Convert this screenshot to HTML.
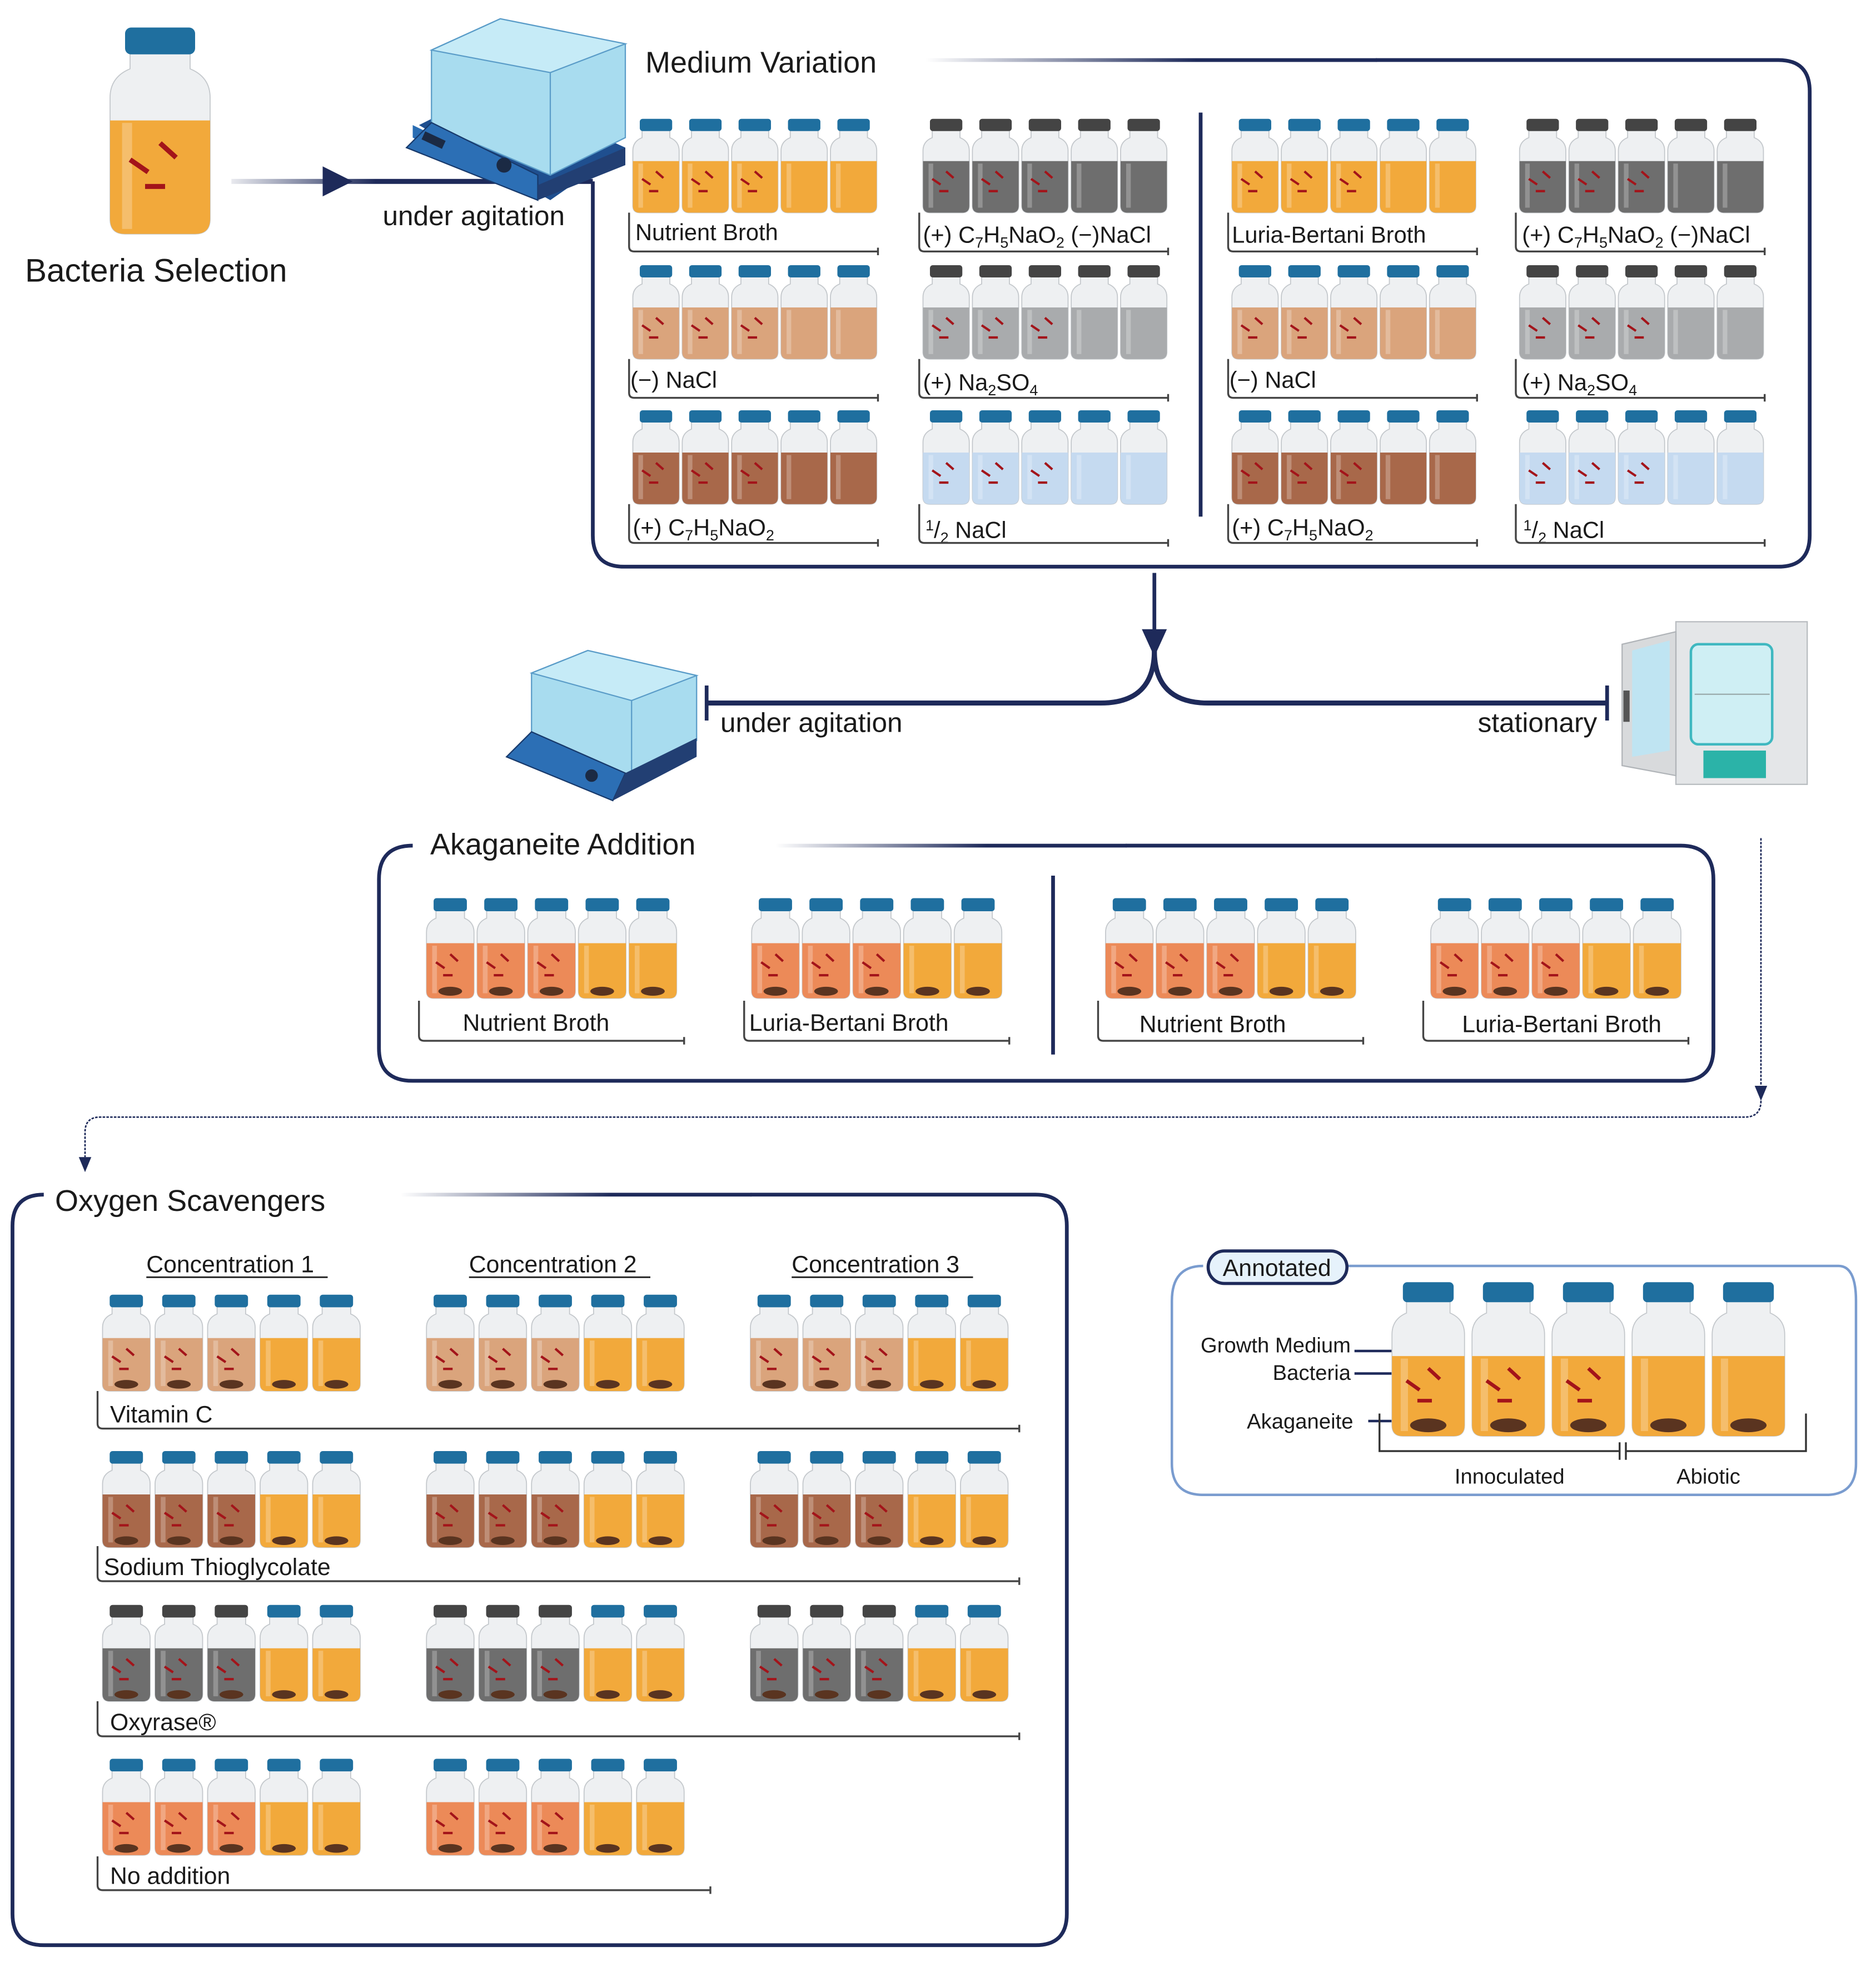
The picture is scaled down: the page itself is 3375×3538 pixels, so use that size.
<!DOCTYPE html>
<html><head><meta charset="utf-8">
<style>
html,body{margin:0;padding:0;background:#fff;}
svg{display:block;}
text{font-family:"Liberation Sans",sans-serif;fill:#1a1a1a;}
</style></head>
<body>
<svg id="s" xmlns="http://www.w3.org/2000/svg" width="3375" height="3538" viewBox="0 0 1500 1572.4">
<defs>
<linearGradient id="fadeR" x1="0" x2="1" y1="0" y2="0"><stop offset="0" stop-color="#1e2a5a" stop-opacity="0"/><stop offset="0.6" stop-color="#1e2a5a" stop-opacity="1"/></linearGradient>
<linearGradient id="fadeL" x1="0" x2="1" y1="0" y2="0"><stop offset="0" stop-color="#1e2a5a" stop-opacity="0.1"/><stop offset="0.4" stop-color="#1e2a5a"/></linearGradient>
</defs>
<rect width="1500" height="1572.4" fill="#fff"/>

<!-- Top section -->
<text x="20" y="225" font-size="26">Bacteria Selection</text>
<rect x="185" y="143" width="289" height="4" fill="url(#fadeL)"/>
<polygon points="258,133 282,145 258,157" fill="#1e2a5a"/>
<!-- shaker 1 -->
<g>
<polygon points="335,100 440,160 500,118 395,70" fill="#1f4f8f"/>
<polygon points="330,110 430,160 430,148 330,100" fill="#2a6db3"/>
<polygon points="345,40 400,15 500,35 500,110 440,140 345,100" fill="#a8dcef" stroke="#5a9cc8" stroke-width="1"/>
<polygon points="345,40 400,15 500,35 440,58" fill="#c6ebf7" stroke="#5a9cc8"/>
<line x1="440" y1="58" x2="440" y2="140" stroke="#5a9cc8"/>
<polygon points="325,118 345,98 430,140 430,160" fill="#2c6fb5" stroke="#17396b"/>
<circle cx="403" cy="132" r="6" fill="#1b2a44"/>
<rect x="340" y="105" width="18" height="7" fill="#1b2a44" transform="rotate(25 340 105)"/>
<polygon points="430,148 500,118 500,132 430,160" fill="#223f73"/>
</g>
<text x="306" y="180" font-size="22">under agitation</text>

<!-- Medium Variation box -->
<path d="M474 145 L474 428 Q474 453 499 453 L1422 453 Q1447 453 1447 428 L1447 73 Q1447 48 1422 48 L1100 48" fill="none" stroke="#1e2a5a" stroke-width="3"/>
<rect x="740" y="46.5" width="361" height="3" fill="url(#fadeR)"/>
<text x="516" y="58" font-size="24">Medium Variation</text>
<line x1="960" y1="90" x2="960" y2="413" stroke="#1e2a5a" stroke-width="3"/>
<g font-size="18.5">
<text x="508" y="192">Nutrient Broth</text>
<text x="738" y="194">(+) C<tspan font-size="12" dy="4">7</tspan><tspan dy="-4">H</tspan><tspan font-size="12" dy="4">5</tspan><tspan dy="-4">NaO</tspan><tspan font-size="12" dy="4">2</tspan><tspan dy="-4"> (−)NaCl</tspan></text>
<text x="504" y="310">(−) NaCl</text>
<text x="738" y="312">(+) Na<tspan font-size="12" dy="4">2</tspan><tspan dy="-4">SO</tspan><tspan font-size="12" dy="4">4</tspan></text>
<text x="506" y="428">(+) C<tspan font-size="12" dy="4">7</tspan><tspan dy="-4">H</tspan><tspan font-size="12" dy="4">5</tspan><tspan dy="-4">NaO</tspan><tspan font-size="12" dy="4">2</tspan></text>
<text x="740" y="430"><tspan font-size="12" dy="-6">1</tspan><tspan dy="6">/</tspan><tspan font-size="12" dy="4">2</tspan><tspan dy="-4"> NaCl</tspan></text>
<text x="985" y="194">Luria-Bertani Broth</text>
<text x="1217" y="194">(+) C<tspan font-size="12" dy="4">7</tspan><tspan dy="-4">H</tspan><tspan font-size="12" dy="4">5</tspan><tspan dy="-4">NaO</tspan><tspan font-size="12" dy="4">2</tspan><tspan dy="-4"> (−)NaCl</tspan></text>
<text x="983" y="310">(−) NaCl</text>
<text x="1217" y="312">(+) Na<tspan font-size="12" dy="4">2</tspan><tspan dy="-4">SO</tspan><tspan font-size="12" dy="4">4</tspan></text>
<text x="985" y="428">(+) C<tspan font-size="12" dy="4">7</tspan><tspan dy="-4">H</tspan><tspan font-size="12" dy="4">5</tspan><tspan dy="-4">NaO</tspan><tspan font-size="12" dy="4">2</tspan></text>
<text x="1218" y="430"><tspan font-size="12" dy="-6">1</tspan><tspan dy="6">/</tspan><tspan font-size="12" dy="4">2</tspan><tspan dy="-4"> NaCl</tspan></text>
</g>

<!-- Split connector -->
<line x1="923" y1="458" x2="923" y2="510" stroke="#1e2a5a" stroke-width="3"/>
<polygon points="913,503 933,503 923,525" fill="#1e2a5a"/>
<path d="M923 520 Q923 562 880 562 L565 562" fill="none" stroke="#1e2a5a" stroke-width="4"/>
<path d="M923 520 Q923 562 966 562 L1285 562" fill="none" stroke="#1e2a5a" stroke-width="4"/>
<line x1="565" y1="548" x2="565" y2="576" stroke="#1e2a5a" stroke-width="3"/>
<line x1="1285" y1="548" x2="1285" y2="576" stroke="#1e2a5a" stroke-width="3"/>
<text x="576" y="585" font-size="22">under agitation</text>
<text x="1277" y="585" font-size="22" text-anchor="end">stationary</text>
<!-- shaker 2 -->
<g>
<polygon points="410,600 490,640 557,600 480,568" fill="#1f4f8f"/>
<polygon points="425,538 470,520 557,540 557,592 500,620 425,585" fill="#a8dcef" stroke="#5a9cc8"/>
<polygon points="425,538 470,520 557,540 505,560" fill="#c6ebf7" stroke="#5a9cc8"/>
<line x1="505" y1="560" x2="505" y2="618" stroke="#5a9cc8"/>
<polygon points="405,605 425,585 500,618 490,640" fill="#2c6fb5" stroke="#17396b"/>
<circle cx="473" cy="620" r="5" fill="#1b2a44"/>
<polygon points="490,640 557,605 557,590 500,618" fill="#223f73"/>
</g>
<!-- incubator -->
<g>
<rect x="1340" y="497" width="105" height="130" fill="#e4e6e8" stroke="#b8bcc0"/>
<rect x="1352" y="515" width="65" height="80" rx="6" fill="#cfeff4" stroke="#3fb8c0" stroke-width="2"/>
<line x1="1355" y1="555" x2="1415" y2="555" stroke="#9aa"/>
<rect x="1362" y="600" width="50" height="22" fill="#2bb3a8"/>
<polygon points="1297,515 1340,505 1340,620 1297,612" fill="#d8dadc" stroke="#b0b4b8"/>
<polygon points="1305,520 1335,512 1335,600 1305,605" fill="#bfe4f2"/>
<rect x="1298" y="552" width="5" height="25" fill="#555"/>
</g>

<!-- Akaganeite box -->
<path d="M330 676 Q303 676 303 703 L303 838 Q303 864 330 864 L1344 864 Q1370 864 1370 838 L1370 703 Q1370 676 1344 676 L900 676" fill="none" stroke="#1e2a5a" stroke-width="3"/>
<rect x="620" y="674.5" width="281" height="3" fill="url(#fadeR)"/>
<text x="344" y="683" font-size="24">Akaganeite Addition</text>
<line x1="842" y1="700" x2="842" y2="843" stroke="#1e2a5a" stroke-width="3"/>
<g font-size="19">
<text x="370" y="824">Nutrient Broth</text>
<text x="599" y="824">Luria-Bertani Broth</text>
<text x="911" y="825">Nutrient Broth</text>
<text x="1169" y="825">Luria-Bertani Broth</text>
</g>

<!-- dotted connector -->
<path d="M1408 670 L1408 870 M1408 880 Q1408 893 1395 893 L80 893 Q68 893 68 905 L68 925" fill="none" stroke="#1e2a5a" stroke-width="1.2" stroke-dasharray="2 1"/>
<polygon points="1403,868 1413,868 1408,880" fill="#1e2a5a"/>
<polygon points="63,925 73,925 68,937" fill="#1e2a5a"/>

<!-- Oxygen Scavengers box -->
<path d="M35 955 Q10 955 10 980 L10 1530 Q10 1555 35 1555 L828 1555 Q853 1555 853 1530 L853 980 Q853 955 828 955 L600 955" fill="none" stroke="#1e2a5a" stroke-width="3"/>
<rect x="320" y="953.5" width="281" height="3" fill="url(#fadeR)"/>
<text x="44" y="968" font-size="24">Oxygen Scavengers</text>
<g font-size="19">
<text x="117" y="1017">Concentration 1</text><line x1="117" y1="1021" x2="262" y2="1021" stroke="#222" stroke-width="1.3"/>
<text x="375" y="1017">Concentration 2</text><line x1="375" y1="1021" x2="520" y2="1021" stroke="#222" stroke-width="1.3"/>
<text x="633" y="1017">Concentration 3</text><line x1="633" y1="1021" x2="778" y2="1021" stroke="#222" stroke-width="1.3"/>
<text x="88" y="1137">Vitamin C</text>
<text x="83" y="1259">Sodium Thioglycolate</text>
<text x="88" y="1383">Oxyrase®</text>
<text x="88" y="1506">No addition</text>
</g>

<!-- Annotated -->
<path d="M970 1012 L1470 1012 Q1484 1012 1484 1040 L1484 1170 Q1484 1195 1460 1195 L962 1195 Q937 1195 937 1170 L937 1040 Q937 1012 962 1012" fill="none" stroke="#7a9ccf" stroke-width="2"/>
<rect x="966" y="1000" width="111" height="26" rx="13" fill="#e6f2fb" stroke="#1e2a5a" stroke-width="2.5"/>
<text x="1021" y="1020" font-size="19" text-anchor="middle">Annotated</text>
<g font-size="17">
<text x="1080" y="1081" text-anchor="end">Growth Medium</text>
<text x="1080" y="1103" text-anchor="end">Bacteria</text>
<text x="1082" y="1142" text-anchor="end">Akaganeite</text>
<text x="1207" y="1186" text-anchor="middle">Innoculated</text>
<text x="1366" y="1186" text-anchor="middle">Abiotic</text>
</g>
<g stroke="#1e2a5a" stroke-width="2">
<line x1="1083" y1="1080" x2="1120" y2="1080"/>
<line x1="1083" y1="1098" x2="1120" y2="1098"/>
<line x1="1094" y1="1136" x2="1127" y2="1136"/>
</g>
<path d="M1103 1130 L1103 1160 L1295 1160 M1300 1160 L1444 1160 L1444 1130 M1295 1153 L1295 1167 M1300 1153 L1300 1167" fill="none" stroke="#333" stroke-width="1.5"/>

<g id="bottles"></g>
</svg>
<script>
(function(){
var g=document.getElementById('bottles');var NS='http://www.w3.org/2000/svg';
function el(t,a){var e=document.createElementNS(NS,t);for(var k in a)e.setAttribute(k,a[k]);g.appendChild(e);return e;}
function bottle(x,y,w,h,liq,cap,bact,aka,lt){
  lt=lt||0.45;
  var r=0.15*w;
  var body='M'+(x+w)+' '+(y+0.34*h)+' L'+(x+w)+' '+(y+h-r)+' Q'+(x+w)+' '+(y+h)+' '+(x+w-r)+' '+(y+h)+' L'+(x+r)+' '+(y+h)+' Q'+x+' '+(y+h)+' '+x+' '+(y+h-r)+' L'+x+' '+(y+0.34*h);
  el('path',{d:'M'+(x+0.2*w)+' '+(y+0.12*h)+' L'+(x+0.8*w)+' '+(y+0.12*h)+' L'+(x+0.8*w)+' '+(y+0.2*h)+' Q'+(x+w)+' '+(y+0.24*h)+' '+(x+w)+' '+(y+0.34*h)+body.replace('M'+(x+w)+' '+(y+0.34*h),'')+' Q'+x+' '+(y+0.24*h)+' '+(x+0.2*w)+' '+(y+0.2*h)+' Z',fill:'#eef0f2',stroke:'#c4c8cc','stroke-width':0.8});
  el('path',{d:'M'+x+' '+(y+lt*h)+' L'+(x+w)+' '+(y+lt*h)+body.replace('M'+(x+w)+' '+(y+0.34*h),' ')+' Z',fill:liq});
  el('rect',{x:x+0.12*w,y:y+lt*h+2,width:0.1*w,height:(1-lt)*h-6,fill:'#fff',opacity:0.25});
  el('rect',{x:x+0.15*w,y:y,width:0.7*w,height:0.13*h,rx:0.06*w,fill:cap});
  if(bact){
    var c='#a3141a',sw=Math.max(1.5,w*0.05);
    el('line',{x1:x+0.5*w,y1:y+0.56*h,x2:x+0.66*w,y2:y+0.63*h,stroke:c,'stroke-width':sw});
    el('line',{x1:x+0.2*w,y1:y+0.64*h,x2:x+0.38*w,y2:y+0.7*h,stroke:c,'stroke-width':sw});
    el('line',{x1:x+0.35*w,y1:y+0.77*h,x2:x+0.55*w,y2:y+0.77*h,stroke:c,'stroke-width':sw});
  }
  if(aka){el('ellipse',{cx:x+0.5*w,cy:y+h-0.07*h,rx:0.25*w,ry:0.045*h,fill:'#5a3420'});}
}
function group(x,y,w,h,sp,c1,c2,cap1,cap2,aka){
  for(var i=0;i<5;i++){var inoc=i<3;bottle(x+i*sp,y,w,h,inoc?c1:c2,inoc?cap1:cap2,inoc,aka);}
}
function bracket(x1,x2,yb,ytop){
  el('path',{d:'M'+x1+' '+ytop+' L'+x1+' '+(yb-4)+' Q'+x1+' '+yb+' '+(x1+4)+' '+yb+' L'+x2+' '+yb+' M'+x2+' '+(yb-3)+' L'+x2+' '+(yb+3),fill:'none',stroke:'#444','stroke-width':1.5});
}
var O='#f2a93b',TAN='#daa47c',BR='#a8684a',DG='#6e6e6e',LG='#a9abad',LB='#c5daf0',SAL='#ec8a58',BC='#1f6f9f',DC='#444';
bottle(88,22,80,165,O,BC,true,false,0.45);
var rows=[95,212,328];
var L=[[O,O,BC],[TAN,TAN,BC],[BR,BR,BC]],R=[[DG,DG,DC],[LG,LG,DC],[LB,LB,BC]];
var cols=[506,738,985,1215];
for(var r=0;r<3;r++){for(var c=0;c<4;c++){var s=(c%2==0)?L[r]:R[r];
  for(var i=0;i<5;i++){bottle(cols[c]+i*39.5,rows[r],37,75,s[0],s[2],i<3,false);}
  bracket(cols[c]-3,cols[c]+196,rows[r]+106,rows[r]+75);
}}
var ax=[341,601,884,1144];
for(var c=0;c<4;c++){group(ax[c],718,38,80,40.5,SAL,O,BC,BC,true);bracket(ax[c]-6,ax[c]+206,832,800);}
var oy=[1035,1160,1283,1406],oc=[[TAN,BC],[BR,BC],[DG,DC],[SAL,BC]],ox=[82,341,600];
for(var r=0;r<4;r++){var n=r==3?2:3;for(var c=0;c<n;c++){group(ox[c],oy[r],38,77,42,oc[r][0],O,oc[r][1],BC,true);}}
bracket(78,815,1142,1112);bracket(78,815,1264,1236);bracket(78,815,1388,1360);bracket(78,568,1511,1484);
for(var i=0;i<5;i++){bottle(1113+i*64,1025,58,123,O,BC,i<3,true,0.48);}
})();
</script>
</body></html>
